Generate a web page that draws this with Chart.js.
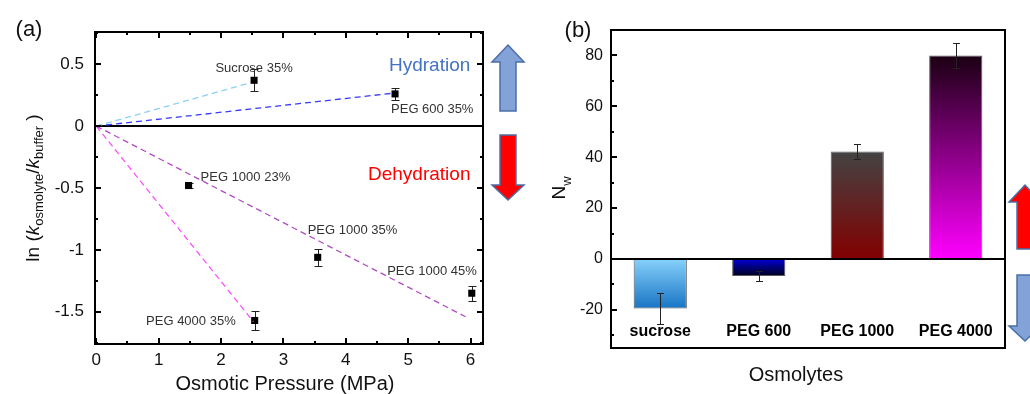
<!DOCTYPE html>
<html>
<head>
<meta charset="utf-8">
<script src="https://cdn.jsdelivr.net/npm/chart.js@4.4.0/dist/chart.umd.min.js"></script>
<style>
  html, body { margin: 0; padding: 0; background: #fff; }
  #wrap { position: relative; width: 1030px; height: 394px; overflow: hidden; }
  #chartA { position: absolute; left: 0; top: 0; }
  #chartB { position: absolute; left: 530px; top: 0; }
</style>
</head>
<body>
<div id="wrap">
  <canvas id="chartA" width="530" height="394"></canvas>
  <canvas id="chartB" width="500" height="394"></canvas>
</div>
<script>
const FONT = "'Liberation Sans', Arial, sans-serif";

// (a) data points
const pointNames = ['Sucrose 35%', 'PEG 600 35%', 'PEG 1000 23%', 'PEG 1000 35%', 'PEG 1000 45%', 'PEG 4000 35%'];
const pressure = [2.53, 4.79, 1.48, 3.55, 6.02, 2.54];
const lnRatio = [0.37, 0.26, -0.48, -1.06, -1.35, -1.57];
const lnErr = [0.09, 0.05, 0.02, 0.07, 0.06, 0.08];

// (a) dashed fit lines, all from the origin
const fitEndX = [2.47, 4.73, 5.92, 2.52];
const fitEndY = [0.35, 0.264, -1.54, -1.58];
const fitColors = ['#8cd0f4', '#3a3aff', '#b04cc4', '#ff50ff'];

const pressureTicks = [0, 1, 2, 3, 4, 5, 6];
const lnTicks = [-1.5, -1, -0.5, 0, 0.5];

// (b) bars
const osmolytes = ['sucrose', 'PEG 600', 'PEG 1000', 'PEG 4000'];
const nw = [-19.5, -6.7, 42.2, 80];
const nwErr = [6, 2, 3, 5];
const nwTicks = [-20, 0, 20, 40, 60, 80];
const barTop = ['#86d1fb', '#0000d6', '#434343', '#1a0012'];
const barBottom = ['#1874c4', '#00001c', '#820000', '#ff00ff'];

// label offsets (px) from each point: dx, dy, align
const labelPos = [[0, -12, 'center'], [-4, 16, 'left'], [12, -8, 'left'], [-10, -27, 'left'], [5, -22, 'right'], [-19, 1, 'right']];

function fixedAxis(size, vertical) {
  return function (s) {
    if (vertical) s.width = size; else s.height = size;
    s.paddingTop = 0; s.paddingBottom = 0; s.paddingLeft = 0; s.paddingRight = 0;
  };
}

function richText(ctx, parts, cx, baseline) {
  let w = 0;
  parts.forEach(p => { ctx.font = p[1]; w += ctx.measureText(p[0]).width; });
  let xx = cx - w / 2;
  parts.forEach(p => {
    ctx.font = p[1];
    ctx.fillText(p[0], xx, baseline + p[2]);
    xx += ctx.measureText(p[0]).width;
  });
}

// block arrow, tip pointing up or down
function blockArrow(ctx, cx, tipY, baseY, tailY, headHalf, shaftHalf, fill) {
  ctx.beginPath();
  ctx.moveTo(cx, tipY);
  ctx.lineTo(cx + headHalf, baseY);
  ctx.lineTo(cx + shaftHalf, baseY);
  ctx.lineTo(cx + shaftHalf, tailY);
  ctx.lineTo(cx - shaftHalf, tailY);
  ctx.lineTo(cx - shaftHalf, baseY);
  ctx.lineTo(cx - headHalf, baseY);
  ctx.closePath();
  ctx.fillStyle = fill;
  ctx.fill();
  ctx.strokeStyle = '#4a6fa8';
  ctx.lineWidth = 1.5;
  ctx.stroke();
}

function tickMarks(ctx, scale, values, len, a, sides) {
  values.forEach(v => {
    const p = Math.round(scale.getPixelForValue(v));
    ctx.beginPath();
    if (scale.axis === 'x') {
      if (sides.includes('b')) { ctx.moveTo(p, a.bottom); ctx.lineTo(p, a.bottom - len); }
      if (sides.includes('t')) { ctx.moveTo(p, a.top); ctx.lineTo(p, a.top + len); }
    } else {
      if (sides.includes('l')) { ctx.moveTo(a.left, p); ctx.lineTo(a.left + len, p); }
      if (sides.includes('r')) { ctx.moveTo(a.right, p); ctx.lineTo(a.right - len, p); }
    }
    ctx.stroke();
  });
}

const panelAPlugin = {
  id: 'panelA',
  beforeDatasetsDraw(chart) {
    const { ctx, chartArea: a, scales: { x, y } } = chart;
    ctx.save();
    const y0 = y.getPixelForValue(0);
    ctx.strokeStyle = '#000';
    ctx.lineWidth = 2;
    ctx.beginPath(); ctx.moveTo(a.left, y0); ctx.lineTo(a.right, y0); ctx.stroke();
    // error bars
    ctx.lineWidth = 1;
    ctx.strokeStyle = '#222';
    pressure.forEach((p, i) => {
      const px = Math.round(x.getPixelForValue(p)) + 0.5;
      const hi = Math.round(y.getPixelForValue(lnRatio[i] + lnErr[i])) + 0.5;
      const lo = Math.round(y.getPixelForValue(lnRatio[i] - lnErr[i])) + 0.5;
      ctx.beginPath();
      ctx.moveTo(px, hi); ctx.lineTo(px, lo);
      ctx.moveTo(px - 4, hi); ctx.lineTo(px + 4, hi);
      ctx.moveTo(px - 4, lo); ctx.lineTo(px + 4, lo);
      ctx.stroke();
    });
    ctx.restore();
  },
  afterDatasetsDraw(chart) {
    const { ctx, chartArea: a, scales: { x, y } } = chart;
    ctx.save();
    // frame + ticks
    ctx.strokeStyle = '#000';
    ctx.lineWidth = 2;
    ctx.strokeRect(a.left, a.top, a.right - a.left, a.bottom - a.top);
    tickMarks(ctx, x, pressureTicks, 6, a, 'bt');
    tickMarks(ctx, x, [0.5, 1.5, 2.5, 3.5, 4.5, 5.5], 3, a, 'bt');
    tickMarks(ctx, y, lnTicks, 6, a, 'lr');
    tickMarks(ctx, y, [-1.75, -1.25, -0.75, -0.25, 0.25, 0.75], 3, a, 'lr');

    // point labels
    ctx.fillStyle = '#333';
    ctx.font = '13px ' + FONT;
    ctx.textBaseline = 'middle';
    pointNames.forEach((n, i) => {
      const px = x.getPixelForValue(pressure[i]);
      const py = y.getPixelForValue(lnRatio[i]);
      ctx.textAlign = labelPos[i][2];
      ctx.fillText(n, px + labelPos[i][0], py + labelPos[i][1]);
    });

    // hydration / dehydration
    ctx.textAlign = 'left';
    ctx.font = '19px ' + FONT;
    ctx.fillStyle = '#4472c4';
    ctx.fillText('Hydration', 389, 66);
    ctx.fillStyle = '#ff0000';
    ctx.fillText('Dehydration', 368, 175);

    blockArrow(ctx, 508, 45, 62, 111, 16, 8, '#82a2d8');
    blockArrow(ctx, 508, 200, 185, 135, 16, 8, '#ff0000');

    // titles
    ctx.fillStyle = '#111';
    ctx.textAlign = 'center';
    ctx.font = '20px ' + FONT;
    ctx.fillText('Osmotic Pressure (MPa)', 285, 384);
    ctx.font = '22px ' + FONT;
    ctx.fillText('(a)', 29, 30);

    ctx.translate(39, 188);
    ctx.rotate(-Math.PI / 2);
    ctx.textAlign = 'left';
    ctx.textBaseline = 'alphabetic';
    const f = '19px ' + FONT, fi = 'italic 19px ' + FONT, fs = '13px ' + FONT;
    richText(ctx, [['ln (', f, 0], ['k', fi, 0], ['osmolyte', fs, 4], ['/', f, 0], ['k', fi, 0], ['buffer', fs, 4], [' )', f, 0]], 0, 0);
    ctx.restore();
  }
};

const panelBPlugin = {
  id: 'panelB',
  afterDatasetsDraw(chart) {
    const { ctx, chartArea: a, scales: { x, y } } = chart;
    ctx.save();
    // error bars
    ctx.strokeStyle = '#222';
    ctx.lineWidth = 1;
    nw.forEach((v, i) => {
      const px = Math.round(x.getPixelForValue(i)) + 0.5;
      const hi = Math.round(y.getPixelForValue(v + nwErr[i])) + 0.5;
      const lo = Math.round(y.getPixelForValue(v - nwErr[i])) + 0.5;
      ctx.beginPath();
      ctx.moveTo(px, hi); ctx.lineTo(px, lo);
      ctx.moveTo(px - 3.5, hi); ctx.lineTo(px + 3.5, hi);
      ctx.moveTo(px - 3.5, lo); ctx.lineTo(px + 3.5, lo);
      ctx.stroke();
    });
    // zero line, frame, ticks
    ctx.strokeStyle = '#000';
    ctx.lineWidth = 2;
    const y0 = y.getPixelForValue(0);
    ctx.beginPath(); ctx.moveTo(a.left, y0); ctx.lineTo(a.right, y0); ctx.stroke();
    ctx.strokeRect(a.left, a.top, a.right - a.left, a.bottom - a.top);
    tickMarks(ctx, y, nwTicks, 6, a, 'l');
    tickMarks(ctx, y, [-30, -10, 10, 30, 50, 70], 3, a, 'l');

    // category labels inside the plot
    ctx.fillStyle = '#000';
    ctx.font = 'bold 16px ' + FONT;
    ctx.textAlign = 'center';
    ctx.textBaseline = 'middle';
    osmolytes.forEach((c, i) => ctx.fillText(c, x.getPixelForValue(i), 332));

    ctx.fillStyle = '#111';
    ctx.font = '20px ' + FONT;
    ctx.fillText('Osmolytes', 266, 375);
    ctx.font = '22px ' + FONT;
    ctx.fillText('(b)', 48, 31);

    blockArrow(ctx, 495, 185, 202, 249, 16, 8, '#ff0000');
    blockArrow(ctx, 495, 341, 326, 275, 16, 8, '#82a2d8');

    ctx.fillStyle = '#111';
    ctx.translate(35, 188);
    ctx.rotate(-Math.PI / 2);
    ctx.textAlign = 'left';
    ctx.textBaseline = 'alphabetic';
    richText(ctx, [['N', '19px ' + FONT, 0], ['w', '13px ' + FONT, 6]], 0, 0);
    ctx.restore();
  }
};

new Chart(document.getElementById('chartA'), {
  type: 'scatter',
  data: {
    datasets: fitEndX.map((ex, i) => ({
      type: 'line',
      data: [{ x: 0, y: 0 }, { x: ex, y: fitEndY[i] }],
      borderColor: fitColors[i],
      borderWidth: 1.3,
      borderDash: [6, 4],
      pointRadius: 0,
      fill: false
    })).concat([{
      data: pressure.map((p, i) => ({ x: p, y: lnRatio[i] })),
      pointStyle: 'rect',
      pointRadius: 5,
      backgroundColor: '#000',
      borderColor: '#000',
      borderWidth: 0
    }])
  },
  options: {
    responsive: false,
    animation: false,
    events: [],
    layout: { padding: { top: 32, right: 47, left: 0, bottom: 0 } },
    plugins: { legend: { display: false }, tooltip: { enabled: false } },
    scales: {
      x: {
        type: 'linear', min: -0.02, max: 6.2,
        grid: { display: false, drawTicks: false }, border: { display: false },
        afterBuildTicks: s => { s.ticks = pressureTicks.map(v => ({ value: v })); },
        afterFit: fixedAxis(50, false),
        ticks: { padding: 6, color: '#111', font: { family: FONT, size: 17 }, callback: v => String(v) }
      },
      y: {
        type: 'linear', min: -1.76, max: 0.76,
        grid: { display: false, drawTicks: false }, border: { display: false },
        afterBuildTicks: s => { s.ticks = lnTicks.map(v => ({ value: v })); },
        afterFit: fixedAxis(95, true),
        ticks: { padding: 11, color: '#111', font: { family: FONT, size: 17 }, callback: v => String(v) }
      }
    }
  },
  plugins: [panelAPlugin]
});

new Chart(document.getElementById('chartB'), {
  type: 'bar',
  data: {
    labels: osmolytes,
    datasets: [{
      data: nw,
      backgroundColor: c => {
        const chart = c.chart;
        if (!chart.chartArea || c.dataIndex === undefined) return barBottom[0];
        const i = c.dataIndex;
        const y = chart.scales.y;
        const p1 = y.getPixelForValue(nw[i]), p0 = y.getPixelForValue(0);
        const g = chart.ctx.createLinearGradient(0, Math.min(p0, p1), 0, Math.max(p0, p1));
        g.addColorStop(0, barTop[i]);
        g.addColorStop(1, barBottom[i]);
        return g;
      },
      borderColor: '#5a5a5a',
      borderWidth: 1,
      borderSkipped: false,
      barPercentage: 0.54,
      categoryPercentage: 1
    }]
  },
  options: {
    responsive: false,
    animation: false,
    events: [],
    layout: { padding: { top: 30, right: 25, left: 0, bottom: 0 } },
    plugins: { legend: { display: false }, tooltip: { enabled: false } },
    scales: {
      x: {
        grid: { display: false, drawTicks: false }, border: { display: false },
        ticks: { display: false },
        afterFit: fixedAxis(46, false)
      },
      y: {
        min: -35, max: 90,
        grid: { display: false, drawTicks: false }, border: { display: false },
        afterBuildTicks: s => { s.ticks = nwTicks.map(v => ({ value: v })); },
        afterFit: fixedAxis(81, true),
        ticks: { padding: 8, color: '#111', font: { family: FONT, size: 16 }, callback: v => String(v) }
      }
    }
  },
  plugins: [panelBPlugin]
});
</script>
</body>
</html>
